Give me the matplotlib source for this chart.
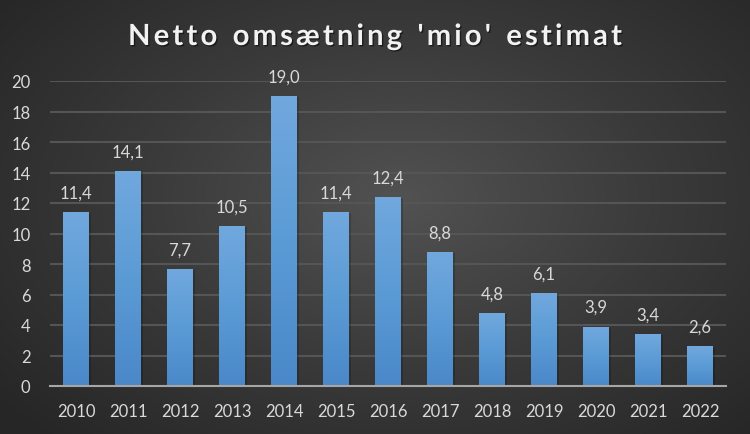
import numpy as np
import matplotlib.pyplot as plt
import matplotlib.patheffects as pe
from matplotlib.colors import LinearSegmentedColormap

years = ["2010", "2011", "2012", "2013", "2014", "2015", "2016",
         "2017", "2018", "2019", "2020", "2021", "2022"]
values = [11.4, 14.1, 7.7, 10.5, 19.0, 11.4, 12.4, 8.8, 4.8, 6.1, 3.9, 3.4, 2.6]
title = "Netto omsætning 'mio' estimat"

txt = "#d9d9d9"
plt.rcParams['font.family'] = ['Lato', 'DejaVu Sans']

fig = plt.figure(figsize=(7.5, 4.35), dpi=100)

# radial background
bg = fig.add_axes([0, 0, 1, 1], zorder=-10)
yy, xx = np.mgrid[0:435, 0:750]
r = np.sqrt(((xx - 400) / 520.0) ** 2 + ((yy - 200) / 330.0) ** 2)
bg_cmap = LinearSegmentedColormap.from_list("bg", ["#525252", "#3a3a3a", "#262626"])
bg.imshow(r, cmap=bg_cmap, vmin=0, vmax=1.0, aspect="auto")
bg.axis("off")

ax = fig.add_axes([50 / 750, (435 - 387) / 435, 676 / 750, 305 / 435])
ax.patch.set_alpha(0)

x = np.arange(len(years))
bars = ax.bar(x, values, width=0.5, color="#5b9bd5", zorder=3)

bar_cmap = LinearSegmentedColormap.from_list("bar", ["#4a88c9", "#5b9bd5", "#71a8de"])
grad = np.linspace(0, 1, 256).reshape(-1, 1)
for b in bars:
    bx, by = b.get_x(), b.get_y()
    w, h = b.get_width(), b.get_height()
    # soft shadow
    ax.bar(bx + w / 2 + 0.03, h, width=w + 0.03, bottom=-0.08, color="black",
           alpha=0.18, zorder=2)
    im = ax.imshow(grad, extent=[bx, bx + w, by, by + h], origin="lower",
                   cmap=bar_cmap, aspect="auto", zorder=3)
    im.set_clip_path(b)

for xi, v in zip(x, values):
    ax.text(xi, v + 0.75, f"{v:.1f}".replace(".", ","), ha="center", va="bottom",
            color=txt, fontsize=12)

ax.set_xlim(-0.5, len(years) - 0.5)
ax.set_ylim(0, 20)
ax.set_yticks(range(0, 21, 2))
ax.set_xticks(x)
ax.set_xticklabels(years)
ax.tick_params(axis="both", length=0, colors=txt, labelsize=12)
ax.tick_params(axis="x", pad=12)
ax.tick_params(axis="y", pad=14)
ax.grid(axis="y", color="#555555", linewidth=1.5, zorder=0)
for s in ["top", "right", "left"]:
    ax.spines[s].set_visible(False)
ax.spines["bottom"].set_color("#a6a6a6")
ax.spines["bottom"].set_linewidth(1.5)
ax.spines["bottom"].set_zorder(4)

# title with letter spacing, placed char by char
renderer = fig.canvas.get_renderer()
spacing = 3.2
shadow = [pe.withSimplePatchShadow(offset=(1, -1), shadow_rgbFace="black", alpha=0.5)]
chars = []
total = 0
for ch in title:
    t = fig.text(0, 0, ch if ch != " " else "n", fontsize=21, fontweight="bold")
    wpx = t.get_window_extent(renderer).width
    t.remove()
    if ch == " ":
        wpx *= 0.55
    chars.append((ch, wpx))
    total += wpx + spacing
total -= spacing
xpos = 375 - total / 2
for ch, wpx in chars:
    if ch != " ":
        fig.text(xpos / 750, 1 - 38 / 435, ch, ha="left", va="center",
                 color="#f2f2f2", fontsize=21, fontweight="bold", path_effects=shadow)
    xpos += wpx + spacing

fig.savefig("out.png", dpi=100)
